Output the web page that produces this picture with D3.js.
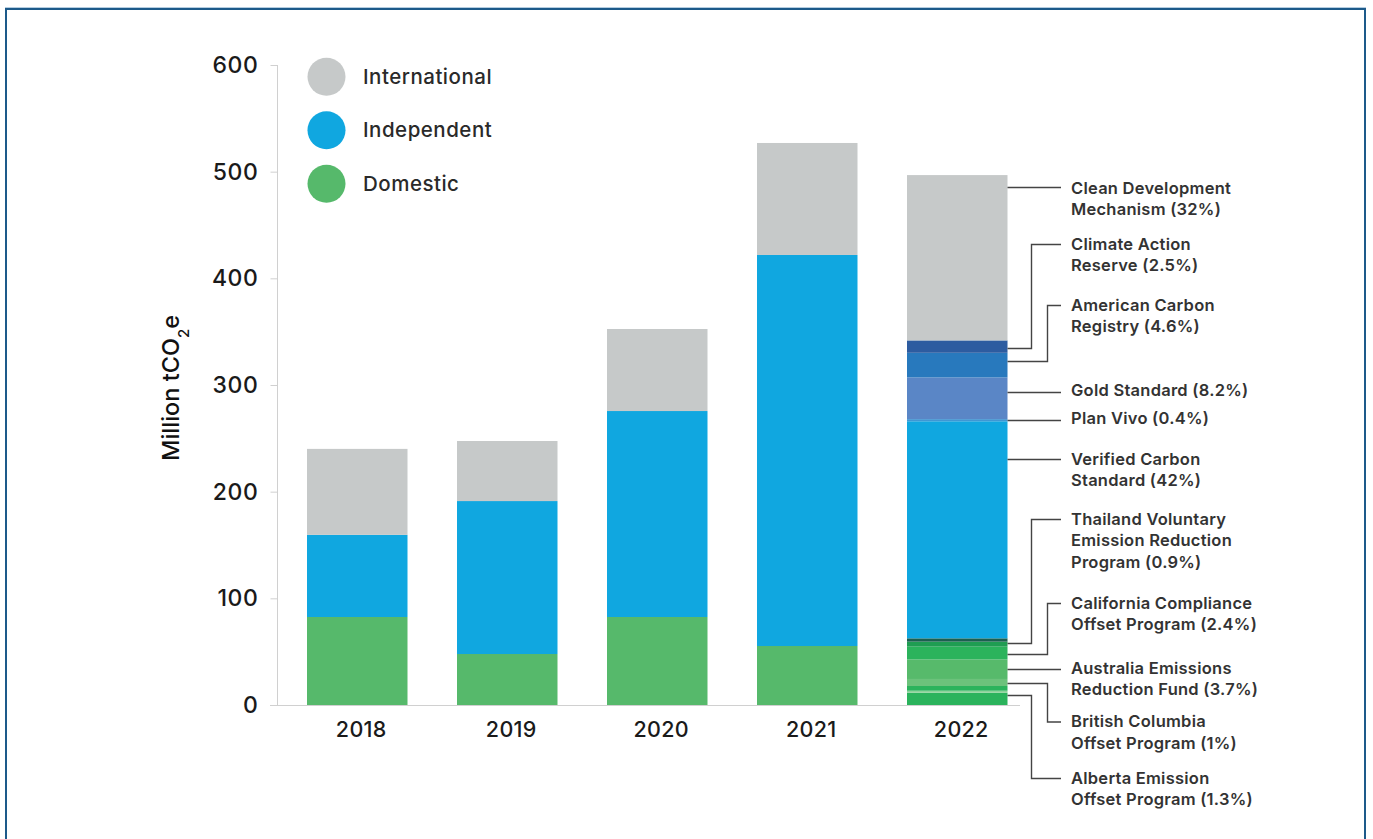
<!DOCTYPE html>
<html>
<head>
<meta charset="utf-8">
<script src="https://cdn.jsdelivr.net/npm/d3@7"></script>
<style>
  html, body { margin: 0; padding: 0; background: #ffffff; }
  svg { display: block; }
  text { font-family: Inter, "Noto Sans", sans-serif; }
</style>
</head>
<body>
<svg id="chart" width="1373" height="839"></svg>
<script>
// ---------- DATA ----------
const years = ["2018", "2019", "2020", "2021", "2022"];
const seriesNames = ["Domestic", "Independent", "International"];
const domestic      = [82.5, 47.8, 82.5, 55.3];
const independent   = [77.0, 143.4, 193.1, 366.6];
const international = [80.6, 56.3, 76.9, 105.0];
const yTicks = [0, 100, 200, 300, 400, 500, 600];
const legendOrder = ["International", "Independent", "Domestic"];

// 2022 breakdown by registry / program (bottom to top), Million tCO2e
const programs2022 = [
  "Alberta Emission Offset Program",
  "Domestic other A",
  "Domestic other B",
  "British Columbia Offset Program",
  "Australia Emissions Reduction Fund",
  "California Compliance Offset Program",
  "Thailand Voluntary Emission Reduction Program",
  "Domestic other C",
  "Verified Carbon Standard",
  "Plan Vivo",
  "Gold Standard",
  "American Carbon Registry",
  "Climate Action Reserve",
  "Clean Development Mechanism"
];
const values2022 = [11.5, 1.9, 4.4, 6.6, 18.4, 11.9, 4.7, 3.1, 203.5, 2.0, 39.1, 23.1, 11.6, 155.0];

// callout labels (text) and the program they point to
const calloutPrograms = [
  "Clean Development Mechanism",
  "Climate Action Reserve",
  "American Carbon Registry",
  "Gold Standard",
  "Plan Vivo",
  "Verified Carbon Standard",
  "Thailand Voluntary Emission Reduction Program",
  "California Compliance Offset Program",
  "Australia Emissions Reduction Fund",
  "British Columbia Offset Program",
  "Alberta Emission Offset Program"
];
const calloutTexts = [
  ["Clean Development", "Mechanism (32%)"],
  ["Climate Action", "Reserve (2.5%)"],
  ["American Carbon", "Registry (4.6%)"],
  ["Gold Standard (8.2%)"],
  ["Plan Vivo (0.4%)"],
  ["Verified Carbon", "Standard (42%)"],
  ["Thailand Voluntary", "Emission Reduction", "Program (0.9%)"],
  ["California Compliance", "Offset Program (2.4%)"],
  ["Australia Emissions", "Reduction Fund (3.7%)"],
  ["British Columbia", "Offset Program (1%)"],
  ["Alberta Emission", "Offset Program (1.3%)"]
];

// ---------- STYLE / LAYOUT ----------
const seriesColor = { International: "#c6c9c9", Independent: "#10a7e0", Domestic: "#56b96b" };
const programColor = {
  "Alberta Emission Offset Program": "#2bb35c",
  "Domestic other A": "#8dd29a",
  "Domestic other B": "#2bb35c",
  "British Columbia Offset Program": "#6cc27b",
  "Australia Emissions Reduction Fund": "#57ba6b",
  "California Compliance Offset Program": "#2bb35c",
  "Thailand Voluntary Emission Reduction Program": "#1f9d52",
  "Domestic other C": "#1c5f50",
  "Verified Carbon Standard": "#10a7e0",
  "Plan Vivo": "#3f97d4",
  "Gold Standard": "#5a86c6",
  "American Carbon Registry": "#2879bd",
  "Climate Action Reserve": "#2d5ca0",
  "Clean Development Mechanism": "#c6c9c9"
};
// where each callout touches the bar (fraction of segment from bottom), label line y, elbow x
const calloutAnchorFrac = [0.93, 0.4, 0.65, 0.65, 0.5, 0.826, 0.75, 0.45, 0.5, 0.45, 0.84];
const calloutLabelY     = [188, 244, 305, 390, 418, 459, 519, 603, 668, 721.5, 778];
const calloutElbowX     = [null, 1031, 1047, null, null, null, 1031, 1047, null, 1047, 1031];

const svg = d3.select("#chart");

// frame
svg.append("rect").attr("x", 6).attr("y", 9).attr("width", 1359).attr("height", 840)
  .attr("fill", "none").attr("stroke", "#1d5a8a").attr("stroke-width", 2);
svg.append("line").attr("x1", 5).attr("x2", 1366).attr("y1", 7.5).attr("y2", 7.5)
  .attr("stroke", "#b5cde0").attr("stroke-width", 1);

const y = d3.scaleLinear().domain([0, 600]).range([705, 65]);
const x = d3.scaleBand().domain(years).range([282.25, 1032.25])
  .paddingInner(0.33).paddingOuter(0.165);

// y axis
const yAxis = d3.axisLeft(y).tickValues(yTicks).tickSize(7).tickPadding(12);
const gy = svg.append("g").attr("transform", "translate(277.5,0)").call(yAxis);
gy.select(".domain").attr("stroke", "#d0d0d0").attr("d", "M0,65V705");
gy.selectAll(".tick line").attr("stroke", "#d0d0d0");
gy.selectAll(".tick text").attr("fill", "#1a1a1a").style("font-size", "23px")
  .style("font-weight", 500).style("letter-spacing", "0.6px")
  .style("font-family", "Inter, sans-serif");

// baseline
svg.append("line").attr("x1", 270).attr("x2", 1020).attr("y1", y(0) + 0.5).attr("y2", y(0) + 0.5)
  .attr("stroke", "#d0d0d0").attr("stroke-width", 1);

// x axis labels
const xAxis = d3.axisBottom(x).tickSize(0).tickPadding(17);
const gx = svg.append("g").attr("transform", `translate(4,${y(0)})`).call(xAxis);
gx.select(".domain").remove();
gx.selectAll(".tick text").attr("fill", "#1a1a1a").style("font-size", "21.5px")
  .style("font-weight", 500).style("letter-spacing", "0.3px")
  .style("font-family", "Inter, sans-serif");

// y title
svg.append("text").attr("transform", "translate(179,388) rotate(-90)")
  .attr("text-anchor", "middle").attr("fill", "#111").style("font-size", "23.5px")
  .style("font-weight", 500)
  .html('Million tCO<tspan baseline-shift="sub" font-size="15px">2</tspan>e');

// stacked bars 2018-2021
const rows = years.slice(0, 4).map((yr, i) => ({
  year: yr, Domestic: domestic[i], Independent: independent[i], International: international[i]
}));
const stack = d3.stack().keys(seriesNames)(rows);
svg.append("g").selectAll("g").data(stack).join("g")
  .attr("fill", d => seriesColor[d.key])
  .selectAll("rect").data(d => d).join("rect")
  .attr("x", d => x(d.data.year))
  .attr("width", x.bandwidth())
  .attr("y", d => y(d[1]))
  .attr("height", d => y(d[0]) - y(d[1]));

// 2022 bar by program
const cum = [];
let acc = 0;
values2022.forEach((v) => { cum.push([acc, acc + v]); acc += v; });
svg.append("g").selectAll("rect").data(programs2022).join("rect")
  .attr("x", x("2022"))
  .attr("width", x.bandwidth())
  .attr("y", (d, i) => y(cum[i][1]))
  .attr("height", (d, i) => y(cum[i][0]) - y(cum[i][1]))
  .attr("fill", d => programColor[d]);

// callouts
const barRight = x("2022") + x.bandwidth();
const lineEnd = 1061;
const textX = 1071;
const cg = svg.append("g");
calloutPrograms.forEach((p, i) => {
  const idx = programs2022.indexOf(p);
  const [a, b] = cum[idx];
  const ay = Math.round(y(a + (b - a) * calloutAnchorFrac[i])) + 0.5;
  const ly = calloutLabelY[i] + 0.5;
  const ex = calloutElbowX[i];
  let path;
  if (ex == null) path = `M${barRight},${ay}H${lineEnd}`;
  else path = `M${barRight},${ay}H${ex + 0.5}V${ly}H${lineEnd}`;
  cg.append("path").attr("d", path).attr("fill", "none")
    .attr("stroke", "#444").attr("stroke-width", 1.4);
  const t = cg.append("text").attr("x", textX).attr("y", calloutLabelY[i])
    .attr("fill", "#333").style("font-size", "16.5px").style("font-weight", 600)
    .style("letter-spacing", "0.25px");
  calloutTexts[i].forEach((line, j) => {
    t.append("tspan").attr("x", textX).attr("dy", j === 0 ? "0.35em" : "21.5px").text(line);
  });
});

// legend
const lg = svg.append("g");
legendOrder.forEach((name, i) => {
  const cy = 76.7 + i * 53.5;
  lg.append("circle").attr("cx", 326.5).attr("cy", cy).attr("r", 19).attr("fill", seriesColor[name]);
  lg.append("text").attr("x", 363).attr("y", cy).attr("dy", "0.35em")
    .attr("fill", "#2a2a2a").style("font-size", "20.5px").style("font-weight", 500)
    .style("letter-spacing", "0.5px").text(name);
});
</script>
</body>
</html>
